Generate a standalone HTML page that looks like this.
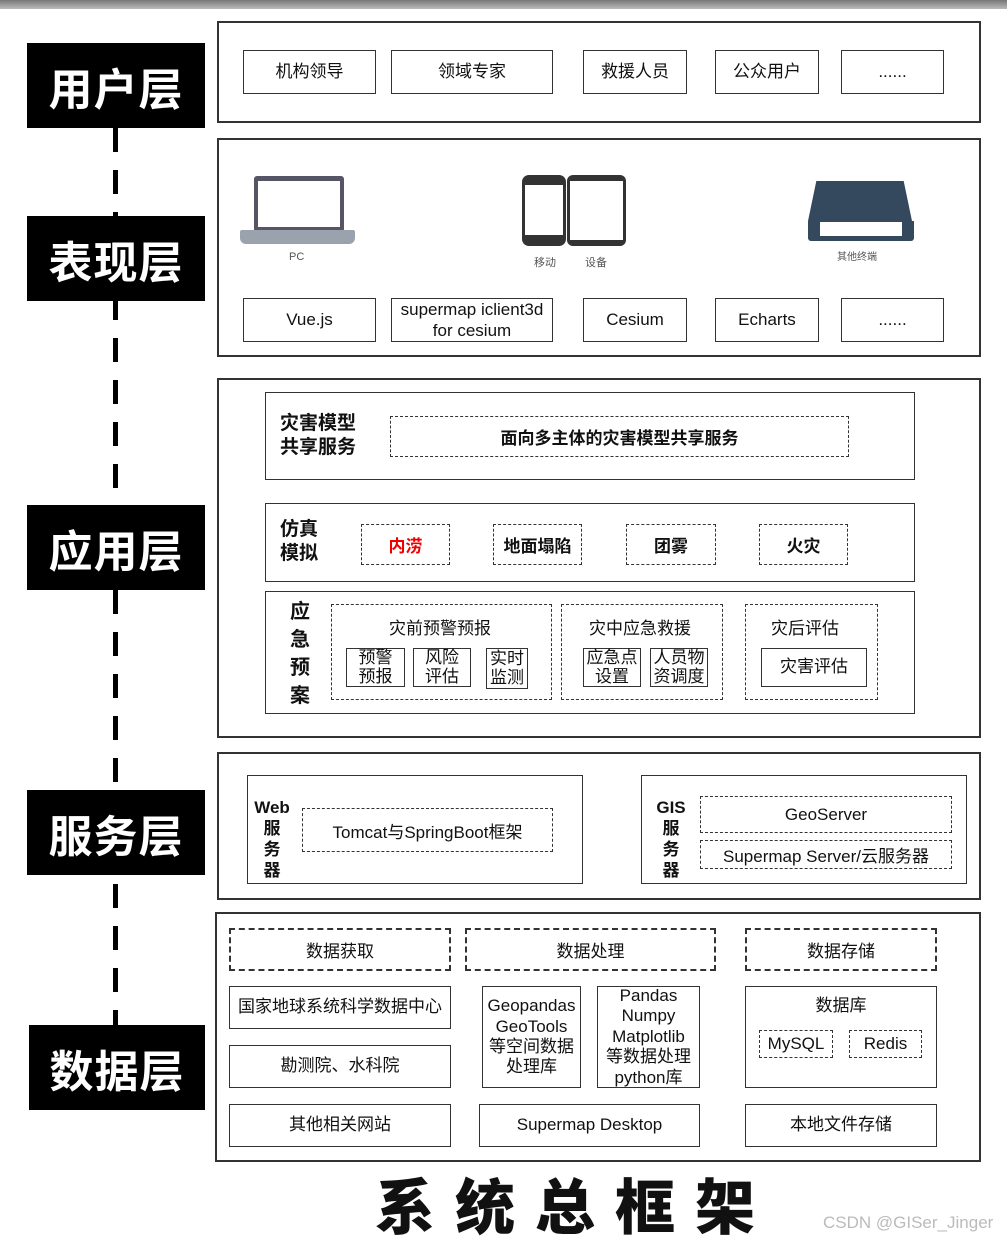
<!DOCTYPE html>
<html><head><meta charset="utf-8"><style>
body{margin:0;width:1007px;height:1242px;background:#fff;position:relative;overflow:hidden;font-family:"Liberation Sans","Noto Sans CJK SC",sans-serif;color:#111}
div{position:absolute;box-sizing:border-box}
.b{border:1.5px solid #333;display:flex;align-items:center;justify-content:center;text-align:center;font-size:17px;line-height:1.2}
.d{border:1.5px dashed #333;display:flex;align-items:center;justify-content:center;text-align:center;font-size:17px}
.L{border:2px solid #333}
.lab{background:#000;color:#fff;font-weight:bold;font-size:44px;display:flex;align-items:center;justify-content:center;letter-spacing:1px}
.bt{font-weight:bold;font-size:19px;line-height:1.25}
.t{font-size:17px;white-space:nowrap}
</style></head><body>
<div style="left:0;top:0;width:1007px;height:9px;background:linear-gradient(#777,#bbb)"></div>
<div style="left:113px;top:128px;width:5px;height:900px;background:repeating-linear-gradient(#000 0 24px,transparent 24px 42px)"></div>
<div class="lab" style="left:27px;top:43px;width:178px;height:85px">用户层</div>
<div class="lab" style="left:27px;top:216px;width:178px;height:85px">表现层</div>
<div class="lab" style="left:27px;top:505px;width:178px;height:85px">应用层</div>
<div class="lab" style="left:27px;top:790px;width:178px;height:85px">服务层</div>
<div class="lab" style="left:29px;top:1025px;width:176px;height:85px">数据层</div>

<div class="L" style="left:217px;top:21px;width:764px;height:102px"></div>
<div class="L" style="left:217px;top:138px;width:764px;height:219px"></div>
<div class="L" style="left:217px;top:378px;width:764px;height:360px"></div>
<div class="L" style="left:217px;top:752px;width:764px;height:148px"></div>
<div class="L" style="left:215px;top:912px;width:766px;height:250px"></div>

<div class="b" style="left:243px;top:50px;width:133px;height:44px">机构领导</div>
<div class="b" style="left:391px;top:50px;width:162px;height:44px">领域专家</div>
<div class="b" style="left:583px;top:50px;width:104px;height:44px">救援人员</div>
<div class="b" style="left:715px;top:50px;width:104px;height:44px">公众用户</div>
<div class="b" style="left:841px;top:50px;width:103px;height:44px">......</div>

<div style="left:254px;top:176px;width:90px;height:56px;background:#556;border-radius:3px"></div>
<div style="left:258px;top:181px;width:82px;height:46px;background:#fff"></div>
<div style="left:240px;top:230px;width:115px;height:14px;background:#9aa3ad;border-radius:2px 2px 6px 6px"></div>
<div class="t" style="left:289px;top:251px;font-size:11px;color:#555">PC</div>
<div style="left:522px;top:175px;width:44px;height:71px;background:#333;border-radius:7px"></div>
<div style="left:525px;top:185px;width:38px;height:50px;background:#fff"></div>
<div style="left:567px;top:175px;width:59px;height:71px;background:#333;border-radius:6px"></div>
<div style="left:570px;top:181px;width:53px;height:59px;background:#fff"></div>
<div class="t" style="left:534px;top:254px;font-size:11px;color:#555">移动</div>
<div class="t" style="left:585px;top:254px;font-size:11px;color:#555">设备</div>
<div style="left:808px;top:181px;width:104px;height:40px;background:#34495e;clip-path:polygon(8% 0,92% 0,100% 100%,0 100%)"></div>
<div style="left:808px;top:221px;width:106px;height:20px;background:#34495e;border-radius:0 0 3px 3px"></div>
<div style="left:820px;top:222px;width:82px;height:14px;background:#fff"></div>
<div class="t" style="left:837px;top:248px;font-size:10px;color:#555">其他终端</div>

<div class="b" style="left:243px;top:298px;width:133px;height:44px">Vue.js</div>
<div class="b" style="left:391px;top:298px;width:162px;height:44px;line-height:1.25">supermap iclient3d<br>for cesium</div>
<div class="b" style="left:583px;top:298px;width:104px;height:44px">Cesium</div>
<div class="b" style="left:715px;top:298px;width:104px;height:44px">Echarts</div>
<div class="b" style="left:841px;top:298px;width:103px;height:44px">......</div>

<div class="b" style="left:265px;top:392px;width:650px;height:88px"></div>
<div class="bt" style="left:280px;top:412px">灾害模型<br>共享服务</div>
<div class="d" style="left:390px;top:416px;width:459px;height:41px;font-weight:bold">面向多主体的灾害模型共享服务</div>
<div class="b" style="left:265px;top:503px;width:650px;height:79px"></div>
<div class="bt" style="left:280px;top:518px">仿真<br>模拟</div>
<div class="d" style="left:361px;top:524px;width:89px;height:41px;font-weight:bold;color:#e00">内涝</div>
<div class="d" style="left:493px;top:524px;width:89px;height:41px;font-weight:bold">地面塌陷</div>
<div class="d" style="left:626px;top:524px;width:90px;height:41px;font-weight:bold">团雾</div>
<div class="d" style="left:759px;top:524px;width:89px;height:41px;font-weight:bold">火灾</div>
<div class="b" style="left:265px;top:591px;width:650px;height:123px"></div>
<div class="bt" style="left:290px;top:598px;width:24px;line-height:28px;font-size:20px">应急预案</div>
<div class="d" style="left:331px;top:604px;width:221px;height:96px"></div>
<div class="d" style="left:561px;top:604px;width:162px;height:96px"></div>
<div class="d" style="left:745px;top:604px;width:133px;height:96px"></div>
<div class="t" style="left:389px;top:614px">灾前预警预报</div>
<div class="t" style="left:589px;top:614px">灾中应急救援</div>
<div class="t" style="left:771px;top:614px">灾后评估</div>
<div class="b" style="left:346px;top:648px;width:59px;height:39px;line-height:1.1">预警<br>预报</div>
<div class="b" style="left:413px;top:648px;width:58px;height:39px;line-height:1.1">风险<br>评估</div>
<div class="b" style="left:486px;top:648px;width:42px;height:41px;line-height:1.1">实时<br>监测</div>
<div class="b" style="left:583px;top:648px;width:58px;height:39px;line-height:1.1">应急点<br>设置</div>
<div class="b" style="left:650px;top:648px;width:58px;height:39px;line-height:1.1">人员物<br>资调度</div>
<div class="b" style="left:761px;top:648px;width:106px;height:39px">灾害评估</div>

<div class="b" style="left:247px;top:775px;width:336px;height:109px"></div>
<div class="bt" style="left:253px;top:797px;font-size:17px;text-align:center;width:38px;line-height:21px">Web<br>服<br>务<br>器</div>
<div class="d" style="left:302px;top:808px;width:251px;height:44px">Tomcat与SpringBoot框架</div>
<div class="b" style="left:641px;top:775px;width:326px;height:109px"></div>
<div class="bt" style="left:652px;top:797px;font-size:17px;text-align:center;width:38px;line-height:21px">GIS<br>服<br>务<br>器</div>
<div class="d" style="left:700px;top:796px;width:252px;height:37px">GeoServer</div>
<div class="d" style="left:700px;top:840px;width:252px;height:29px">Supermap Server/云服务器</div>

<div class="d" style="left:229px;top:928px;width:222px;height:43px;border-width:2px;border-style:dashed">数据获取</div>
<div class="d" style="left:465px;top:928px;width:251px;height:43px;border-width:2px">数据处理</div>
<div class="d" style="left:745px;top:928px;width:192px;height:43px;border-width:2px">数据存储</div>
<div class="b" style="left:229px;top:986px;width:222px;height:43px">国家地球系统科学数据中心</div>
<div class="b" style="left:229px;top:1045px;width:222px;height:43px">勘测院、水科院</div>
<div class="b" style="left:229px;top:1104px;width:222px;height:43px">其他相关网站</div>
<div class="b" style="left:482px;top:986px;width:99px;height:102px;line-height:1.2">Geopandas<br>GeoTools<br>等空间数据<br>处理库</div>
<div class="b" style="left:597px;top:986px;width:103px;height:102px;line-height:1.2">Pandas<br>Numpy<br>Matplotlib<br>等数据处理<br>python库</div>
<div class="b" style="left:479px;top:1104px;width:221px;height:43px">Supermap Desktop</div>
<div class="b" style="left:745px;top:986px;width:192px;height:102px;align-items:flex-start;padding-top:9px">数据库</div>
<div class="d" style="left:759px;top:1030px;width:74px;height:28px">MySQL</div>
<div class="d" style="left:849px;top:1030px;width:73px;height:28px">Redis</div>
<div class="b" style="left:745px;top:1104px;width:192px;height:43px">本地文件存储</div>

<div style="left:375px;top:1160px;font-size:60px;font-weight:900;letter-spacing:20px;white-space:nowrap;font-family:'Noto Sans CJK SC',sans-serif">系统总框架</div>
<div class="t" style="left:823px;top:1213px;color:#bbb;font-size:17px">CSDN @GISer_Jinger</div>
</body></html>
